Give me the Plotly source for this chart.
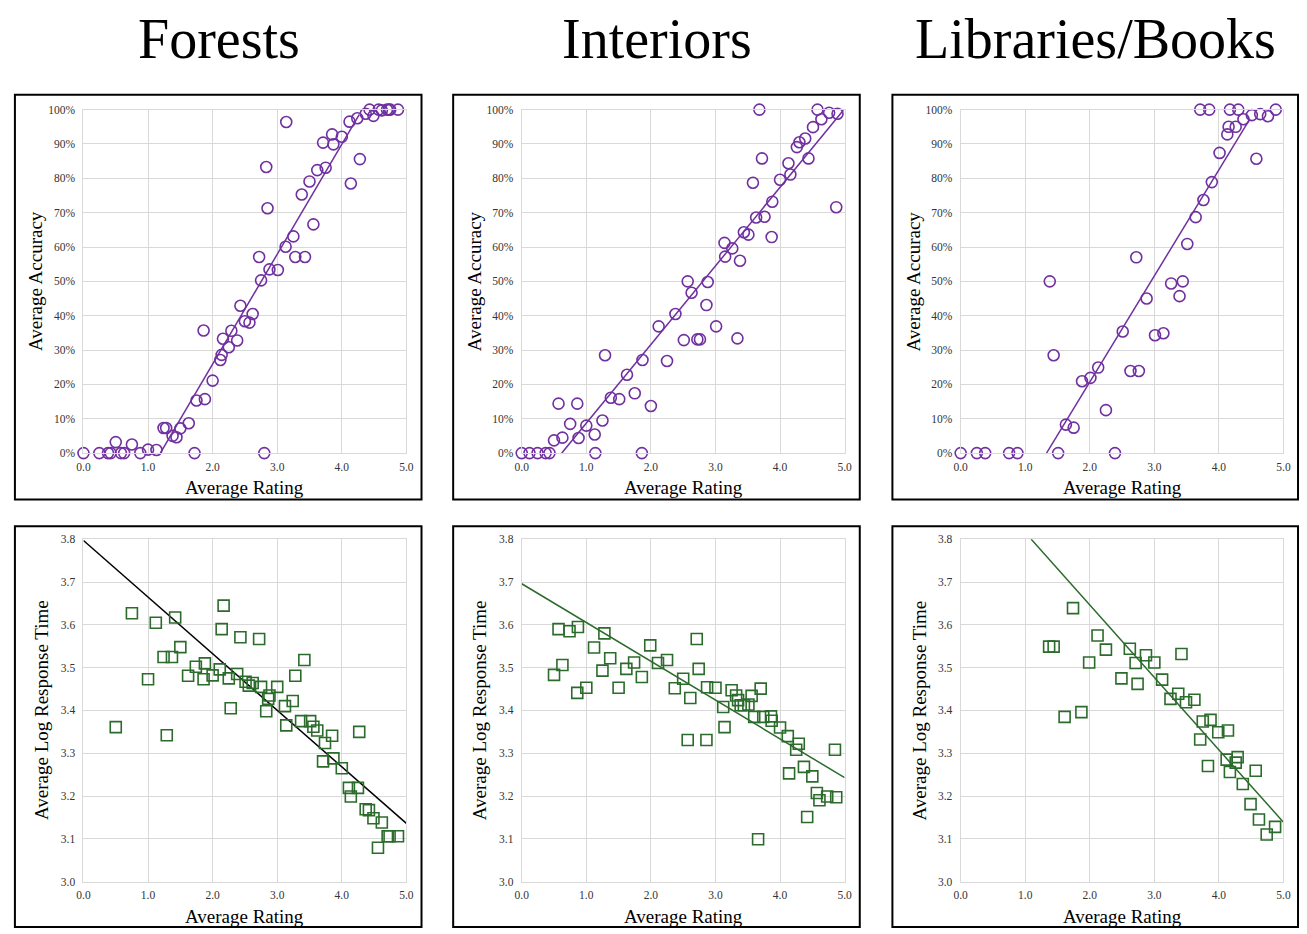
import numpy as np
import plotly.graph_objects as go

# ---------------- data ----------------
titles = ["Forests", "Interiors", "Libraries/Books"]

forest_acc_x = [0.0, 0.245, 0.38, 0.42, 0.50, 0.58, 0.63, 0.75, 0.88, 1.0, 1.13, 1.24, 1.28, 1.38, 1.44,
                1.50, 1.63, 1.72, 1.75, 1.88, 1.86, 2.0, 2.12, 2.14, 2.16, 2.25, 2.29, 2.38, 2.43, 2.50,
                2.57, 2.62, 2.72, 2.75, 2.80, 2.83, 2.85, 2.88, 3.01, 3.13, 3.14, 3.25, 3.28, 3.38, 3.43,
                3.50, 3.56, 3.62, 3.71, 3.75, 3.85, 3.87, 4.0, 4.12, 4.14, 4.24, 4.28, 4.37, 4.43, 4.49,
                4.57, 4.62, 4.70, 4.73, 4.75, 4.87]
forest_acc_y = [0, 0, 0, 0, 3.2, 0, 0, 2.5, 0, 1.0, 0.9, 7.3, 7.3, 5.0, 4.6,
                7.2, 8.7, 0, 15.3, 15.7, 35.7, 21.1, 27.1, 28.6, 33.3, 30.8, 35.6, 32.8, 42.9, 38.4,
                38.0, 40.5, 57.1, 50.3, 0, 83.3, 71.3, 53.5, 53.3, 60.1, 96.4, 63.1, 57.1, 75.3, 57.1,
                79.1, 66.6, 82.4, 90.4, 83.1, 92.8, 89.9, 92.1, 96.5, 78.5, 97.5, 85.6, 98.8, 100, 98.2,
                100, 99.8, 100, 100, 100, 100]

interior_acc_x = [0.0, 0.12, 0.245, 0.37, 0.43, 0.50, 0.57, 0.63, 0.75, 0.86, 0.88, 1.0, 1.13, 1.14, 1.25,
                  1.29, 1.38, 1.51, 1.63, 1.75, 1.86, 1.87, 2.0, 2.12, 2.25, 2.38, 2.51, 2.57, 2.63, 2.72,
                  2.76, 2.86, 2.88, 3.01, 3.14, 3.15, 3.26, 3.34, 3.38, 3.44, 3.51, 3.58, 3.63, 3.68, 3.72,
                  3.76, 3.87, 3.88, 4.0, 4.13, 4.16, 4.26, 4.30, 4.39, 4.44, 4.51, 4.58, 4.64, 4.76, 4.87, 4.89]
interior_acc_y = [0, 0, 0, 0, 0, 3.7, 14.4, 4.5, 8.5, 14.4, 4.4, 8.0, 5.4, 0, 9.5,
                  28.5, 16.1, 15.7, 22.8, 17.4, 0, 27.1, 13.7, 36.9, 26.8, 40.5, 32.9, 50.0, 46.7, 33.1,
                  33.1, 43.1, 49.8, 36.9, 61.2, 57.2, 59.6, 33.4, 56.0, 64.3, 63.6, 78.7, 68.6, 100, 85.8,
                  68.8, 62.9, 73.2, 79.6, 84.4, 81.1, 89.1, 90.5, 91.6, 85.8, 94.9, 100, 97.2, 99.1, 71.6, 98.8]

library_acc_x = [0.0, 0.25, 0.38, 0.75, 0.88, 1.38, 1.44, 1.51, 1.63, 1.75, 1.88, 2.01, 2.13, 2.25, 2.39,
                 2.51, 2.63, 2.72, 2.76, 2.88, 3.01, 3.14, 3.26, 3.39, 3.44, 3.51, 3.64, 3.71, 3.76, 3.85,
                 3.89, 4.01, 4.13, 4.15, 4.17, 4.26, 4.30, 4.38, 4.51, 4.58, 4.64, 4.76, 4.88]
library_acc_y = [0, 0, 0, 0, 0, 50.0, 28.5, 0, 8.3, 7.4, 20.9, 21.9, 24.9, 12.5, 0,
                 35.4, 23.9, 57.0, 23.9, 45.0, 34.3, 34.9, 49.4, 45.7, 50.0, 60.9, 68.7, 100, 73.7, 100,
                 78.9, 87.4, 92.8, 95.0, 100, 95.0, 100, 97.2, 98.4, 85.7, 98.7, 98.1, 100]

forest_rt_x = [0.50, 0.75, 1.0, 1.12, 1.24, 1.29, 1.37, 1.42, 1.50, 1.62, 1.74, 1.86, 1.88, 2.0, 2.11,
               2.14, 2.17, 2.25, 2.28, 2.38, 2.43, 2.51, 2.56, 2.62, 2.72, 2.75, 2.83, 2.86, 2.88, 3.0,
               3.12, 3.14, 3.24, 3.28, 3.37, 3.42, 3.51, 3.56, 3.62, 3.74, 3.71, 3.85, 3.87, 4.0, 4.11,
               4.14, 4.25, 4.27, 4.37, 4.42, 4.49, 4.62, 4.56, 4.71, 4.74, 4.87]
forest_rt_y = [3.361, 3.627, 3.473, 3.605, 3.525, 3.342, 3.525, 3.617, 3.548, 3.481, 3.502, 3.473, 3.510, 3.482, 3.496,
               3.590, 3.645, 3.475, 3.405, 3.485, 3.571, 3.467, 3.458, 3.464, 3.567, 3.455, 3.398, 3.427, 3.435, 3.455,
               3.410, 3.365, 3.422, 3.481, 3.375, 3.518, 3.375, 3.362, 3.353, 3.324, 3.281, 3.341, 3.288, 3.265, 3.219,
               3.199, 3.219, 3.350, 3.169, 3.167, 3.148, 3.138, 3.079, 3.106, 3.106, 3.106]

interior_rt_x = [0.50, 0.57, 0.63, 0.74, 0.86, 0.87, 1.0, 1.12, 1.25, 1.28, 1.37, 1.50, 1.62, 1.74, 1.86,
                 1.99, 2.11, 2.25, 2.37, 2.50, 2.57, 2.61, 2.71, 2.74, 2.86, 2.87, 3.0, 3.12, 3.14, 3.25,
                 3.32, 3.35, 3.39, 3.44, 3.51, 3.56, 3.60, 3.66, 3.70, 3.74, 3.86, 3.87, 4.0, 4.12, 4.14,
                 4.25, 4.29, 4.37, 4.42, 4.50, 4.57, 4.61, 4.73, 4.85, 4.87]
interior_rt_y = [3.483, 3.590, 3.506, 3.585, 3.441, 3.595, 3.453, 3.547, 3.493, 3.580, 3.522, 3.453, 3.497, 3.512, 3.478,
                 3.552, 3.511, 3.518, 3.452, 3.474, 3.331, 3.429, 3.567, 3.497, 3.331, 3.454, 3.453, 3.408, 3.361, 3.447,
                 3.435, 3.424, 3.412, 3.412, 3.414, 3.434, 3.385, 3.099, 3.451, 3.385, 3.386, 3.376, 3.360, 3.340, 3.253,
                 3.308, 3.322, 3.268, 3.151, 3.246, 3.207, 3.190, 3.199, 3.308, 3.197]

library_rt_x = [1.37, 1.44, 1.61, 1.74, 1.87, 1.99, 2.12, 2.25, 2.49, 2.62, 2.71, 2.74, 2.87, 3.0, 3.12,
                3.25, 3.37, 3.42, 3.49, 3.62, 3.71, 3.75, 3.87, 3.83, 3.99, 4.14, 4.12, 4.17, 4.26, 4.29,
                4.37, 4.49, 4.57, 4.62, 4.74, 4.87]
library_rt_y = [3.549, 3.549, 3.385, 3.639, 3.396, 3.512, 3.575, 3.542, 3.475, 3.544, 3.511, 3.462, 3.529, 3.512, 3.472,
                3.427, 3.439, 3.532, 3.419, 3.425, 3.332, 3.374, 3.378, 3.270, 3.349, 3.353, 3.285, 3.256, 3.278, 3.291,
                3.228, 3.181, 3.259, 3.145, 3.110, 3.128]

# trendline parameters (slope, intercept, x_start, x_end)
acc_trend_slope = [32.0, 22.9, 30.9]
acc_trend_intercept = [-38.1, -14.2, -41.1]
acc_trend_xstart = [1.19, 0.62, 1.33]
acc_trend_xend = [4.27, 4.98, 4.48]

rt_trend_slope = [-0.1322, -0.0906, -0.1693]
rt_trend_intercept = [3.797, 3.696, 3.985]
rt_trend_xstart = [0.0, 0.0, 1.09]
rt_trend_xend = [5.0, 5.0, 5.0]

acc_ticks = [0, 10, 20, 30, 40, 50, 60, 70, 80, 90, 100]
rt_ticks = [3.0, 3.1, 3.2, 3.3, 3.4, 3.5, 3.6, 3.7, 3.8]
rating_ticks = [0.0, 1.0, 2.0, 3.0, 4.0, 5.0]

# ---------------- style ----------------
W, H = 1307, 934
PURPLE = "#7030A0"
GREEN = "#2B6B2B"
GRID = "#D9D9D9"
SERIF = "Liberation Serif, Times New Roman, serif"

def px(x):
    return x / W

def py(y):
    return 1 - y / H

col_x = [(77.3, 403.7), (520.3, 846.7), (964.0, 1290.3)]
row_y = [(105.0, 452.9), (540.2, 887.0)]
boxes_x = [(8, 419), (451, 862), (895, 1305)]
boxes_y = [(90, 500), (527, 933)]
ytitle_x = [[29, 472, 916], [35, 478, 922]]

fig = go.Figure()

acc_x = [forest_acc_x, interior_acc_x, library_acc_x]
acc_y = [forest_acc_y, interior_acc_y, library_acc_y]
rt_x = [forest_rt_x, interior_rt_x, library_rt_x]
rt_y = [forest_rt_y, interior_rt_y, library_rt_y]
rt_line_colors = ["#000000", GREEN, GREEN]

annotations = []
shapes = []
layout_axes = {}

for r in range(2):
    for c in range(3):
        idx = r * 3 + c + 1
        xa = "x" if idx == 1 else f"x{idx}"
        ya = "y" if idx == 1 else f"y{idx}"
        xkey = "xaxis" if idx == 1 else f"xaxis{idx}"
        ykey = "yaxis" if idx == 1 else f"yaxis{idx}"

        if r == 0:
            xs, ys = acc_x[c], acc_y[c]
            marker = dict(symbol="circle-open", size=11, color=PURPLE, line=dict(width=1.6, color=PURPLE))
            lx = np.array([acc_trend_xstart[c], acc_trend_xend[c]])
            ly = acc_trend_slope[c] * lx + acc_trend_intercept[c]
            lcol = PURPLE
            yrange = [0, 100]
            ytv = acc_ticks
            ytt = [f"{v}%" for v in acc_ticks]
            ytitle = "Average Accuracy"
        else:
            xs, ys = rt_x[c], rt_y[c]
            marker = dict(symbol="square-open", size=11, color=GREEN, line=dict(width=1.6, color=GREEN))
            lx = np.array([rt_trend_xstart[c], rt_trend_xend[c]])
            ly = rt_trend_slope[c] * lx + rt_trend_intercept[c]
            lcol = rt_line_colors[c]
            yrange = [3.0, 3.8]
            ytv = rt_ticks
            ytt = [f"{v:.1f}" for v in rt_ticks]
            ytitle = "Average Log Response Time"

        fig.add_trace(go.Scatter(x=lx, y=ly, mode="lines", line=dict(color=lcol, width=1.5),
                                 xaxis=xa, yaxis=ya, showlegend=False, hoverinfo="skip"))
        fig.add_trace(go.Scatter(x=xs, y=ys, mode="markers", marker=marker, cliponaxis=False,
                                 xaxis=xa, yaxis=ya, showlegend=False))

        x0, x1 = col_x[c]
        y0, y1 = row_y[r]
        layout_axes[xkey] = dict(
            domain=[px(x0), px(x1)], range=[0, 5], anchor=ya,
            tickmode="array", tickvals=rating_ticks, ticktext=[f"{v:.1f}" for v in rating_ticks],
            showgrid=True, gridcolor=GRID, gridwidth=1, zeroline=False,
            showline=True, linecolor=GRID, linewidth=1, mirror=True,
            ticks="", ticklabelstandoff=3, tickfont=dict(family=SERIF, size=11.5, color="#333333"),
            fixedrange=True,
        )
        layout_axes[ykey] = dict(
            domain=[py(y1), py(y0)], range=yrange, anchor=xa,
            tickmode="array", tickvals=ytv, ticktext=ytt,
            showgrid=True, gridcolor=GRID, gridwidth=1, zeroline=False,
            showline=True, linecolor=GRID, linewidth=1, mirror=True,
            ticks="", ticklabelstandoff=5, tickfont=dict(family=SERIF, size=11.5, color="#333333"),
            fixedrange=True,
        )

        # axis titles
        annotations.append(dict(text="Average Rating", x=px((x0 + x1) / 2), y=py(y1 + 35),
                                xref="paper", yref="paper", showarrow=False,
                                xanchor="center", yanchor="middle",
                                font=dict(family=SERIF, size=19, color="#000000")))
        annotations.append(dict(text=ytitle, x=px(ytitle_x[r][c]), y=py((y0 + y1) / 2),
                                xref="paper", yref="paper", showarrow=False, textangle=-90,
                                xanchor="center", yanchor="middle",
                                font=dict(family=SERIF, size=19, color="#000000")))

        bx0, bx1 = boxes_x[c]
        by0, by1 = boxes_y[r]
        shapes.append(dict(type="rect", xref="paper", yref="paper",
                           x0=px(bx0), x1=px(bx1), y0=py(by1), y1=py(by0),
                           line=dict(color="#000000", width=2)))

title_x = [214, 657, 1100]
for c in range(3):
    annotations.append(dict(text=titles[c], x=px(title_x[c]), y=py(33), xref="paper", yref="paper",
                            showarrow=False, xanchor="center", yanchor="middle",
                            font=dict(family=SERIF, size=56, color="#000000")))

fig.update_layout(
    width=W, height=H, margin=dict(l=0, r=0, t=0, b=0),
    paper_bgcolor="white", plot_bgcolor="white",
    annotations=annotations, shapes=shapes, showlegend=False,
    **layout_axes,
)

fig.write_html("out.html", config={"displayModeBar": False},
               post_script="document.body.style.margin='0';document.body.style.overflow='hidden';")
